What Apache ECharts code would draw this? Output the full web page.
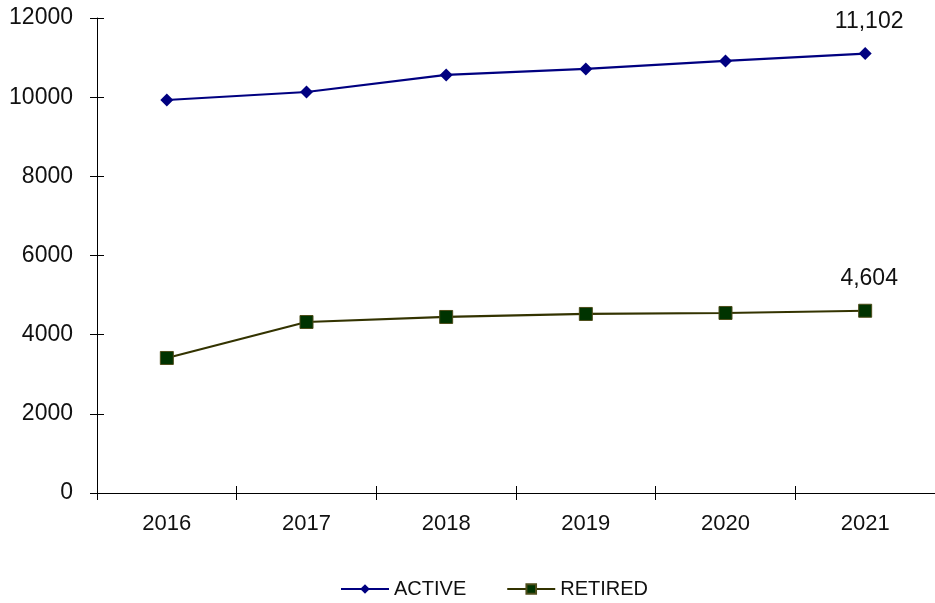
<!DOCTYPE html>
<html>
<head>
<meta charset="utf-8">
<script src="https://cdn.jsdelivr.net/npm/echarts@6/dist/echarts.min.js"></script>
<style>html,body{margin:0;padding:0;background:#fff}#c{width:935px;height:603px}</style>
</head>
<body>
<div id="c"></div>
<script>
var years = ['2016','2017','2018','2019','2020','2021'];
var active = [9929, 10131, 10561, 10713, 10915, 11102];
var retired = [3411, 4320, 4447, 4523, 4548, 4604];
var yTicks = [0, 2000, 4000, 6000, 8000, 10000, 12000];

var chart = echarts.init(document.getElementById('c'), null, {renderer:'canvas'});
var font = 'Liberation Sans, Arial, sans-serif';
function lastLabel(){
  return {show:true, position:'top', distance:14, offset:[4,0], fontSize:23, fontFamily:font, color:'#111',
    formatter:function(p){return p.dataIndex===years.length-1 ? p.value.toLocaleString('en-US') : '';}};
}
chart.setOption({
  animation:false,
  grid:{left:97, right:0, top:18, bottom:110},
  legend:{top:579, left:340, padding:0, itemWidth:48, itemHeight:12, itemGap:40,
    textStyle:{fontSize:20, fontFamily:font, color:'#111'},
    data:['ACTIVE','RETIRED']},
  xAxis:[{type:'category', data:years, boundaryGap:true,
    axisLine:{lineStyle:{color:'#000', width:1}},
    axisTick:{show:true, length:7, lineStyle:{color:'#000'}},
    axisLabel:{fontSize:22, fontFamily:font, color:'#111', margin:20},
    splitLine:{show:false}},
   {type:'category', data:years, boundaryGap:true, position:'bottom',
    axisLine:{show:false},
    axisTick:{show:true, inside:true, length:7, lineStyle:{color:'#000'}},
    axisLabel:{show:false}, splitLine:{show:false}}],
  yAxis:[{type:'value', min:yTicks[0], max:yTicks[yTicks.length-1], interval:2000,
    axisLine:{show:true, lineStyle:{color:'#000', width:1}},
    axisTick:{show:true, length:7, lineStyle:{color:'#000'}},
    axisLabel:{fontSize:23, fontFamily:font, color:'#111', margin:24,
      formatter:function(v){return String(v);}},
    splitLine:{show:false}},
   {type:'value', min:yTicks[0], max:yTicks[yTicks.length-1], interval:2000, position:'left',
    axisLine:{show:false},
    axisTick:{show:true, inside:true, length:7, lineStyle:{color:'#000'}},
    axisLabel:{show:false}, splitLine:{show:false}}],
  series:[
    {name:'ACTIVE', type:'line', data:active, symbol:'diamond', symbolSize:13,
     lineStyle:{color:'#000080', width:2.2}, itemStyle:{color:'#000080'},
     label:lastLabel()},
    {name:'RETIRED', type:'line', data:retired, symbol:'rect', symbolSize:13,
     lineStyle:{color:'#333300', width:2.2}, itemStyle:{color:'#003300', borderColor:'#4d4d1a', borderWidth:1},
     label:lastLabel()}
  ]
});
</script>
</body>
</html>
